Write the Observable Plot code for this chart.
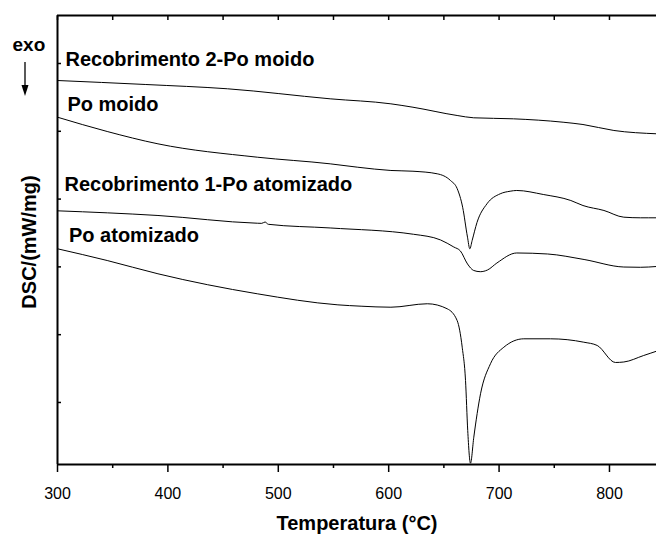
<!DOCTYPE html>
<html><head><meta charset="utf-8">
<script src="https://cdn.jsdelivr.net/npm/d3@7"></script>
<script src="https://cdn.jsdelivr.net/npm/@observablehq/plot@0.6"></script>
<style>body{margin:0;background:#fff}</style>
</head><body><div id="chart"></div>
<script>
// Temperature (°C) and DSC signal (mW/mg, arbitrary offset)
const tA = [300, 380, 454, 547, 602, 622, 662, 677, 713, 758, 776, 804, 843];
const vA = [5.749, 5.69, 5.627, 5.479, 5.405, 5.355, 5.233, 5.199, 5.184, 5.134, 5.100, 5.012, 4.963];

const tB = [300, 345, 391, 481, 547, 572, 602, 622, 644, 656, 662, 667, 671.4, 673.5, 675.6, 680, 689, 701, 710, 716, 740, 765, 776, 795, 813, 828, 843];
const vB = [5.208, 4.997, 4.815, 4.618, 4.520, 4.470, 4.422, 4.411, 4.373, 4.274, 4.156, 3.880, 3.438, 3.267, 3.389, 3.655, 3.930, 4.078, 4.116, 4.127, 4.068, 3.979, 3.905, 3.832, 3.733, 3.724, 3.724];

const tC = [300, 391, 481, 485, 488, 491, 547, 622.5, 647, 659, 665, 671.4, 677, 683, 689.5, 698, 716, 744, 777, 813, 828, 843];
const vC = [3.827, 3.758, 3.644, 3.642, 3.662, 3.628, 3.574, 3.481, 3.397, 3.293, 3.234, 3.043, 2.947, 2.929, 2.954, 3.057, 3.205, 3.190, 3.109, 2.998, 2.994, 3.006];

const tD = [300, 345, 391, 481, 554, 575, 602, 635, 653, 662, 666.6, 669.6, 671.6, 674.1, 677.1, 683.2, 692.2, 704.3, 722.4, 746.6, 776.7, 788.9, 805.4, 813, 831, 842.6];
const vD = [3.267, 3.094, 2.898, 2.603, 2.44, 2.42, 2.405, 2.456, 2.382, 2.209, 1.815, 1.324, 0.587, 0.104, 0.488, 1.128, 1.571, 1.815, 1.939, 1.939, 1.889, 1.841, 1.590, 1.597, 1.693, 1.756];

const seriesNames = ["Recobrimento 2-Po moido", "Po moido", "Recobrimento 1-Po atomizado", "Po atomizado"];
const labelT = [307.2, 309, 306.3, 310.4];
const labelV = [5.956, 5.292, 4.112, 3.360];

const xMajor = [300, 400, 500, 600, 700, 800];
const xMinor = [350, 450, 550, 650, 750];
const xAll = [300, 350, 400, 450, 500, 550, 600, 650, 700, 750, 800];
const yTicks = [1, 2, 3, 4, 5, 6];
const xDomain = [300, 842.6];
const yDomain = [0.085, 6.708];

const xTitle = "Temperatura (°C)";
const yTitle = "DSC/(mW/mg)";
const exoLabel = "exo";

const series = [[tA, vA], [tB, vB], [tC, vC], [tD, vD]];
const data = series.flatMap(([t, v], k) => t.map((T, i) => ({series: seriesNames[k], T, dsc: v[i]})));

const font = "'Liberation Sans', Arial, Helvetica, sans-serif";

const chart = Plot.plot({
  width: 656, height: 534,
  marginLeft: 57, marginRight: 0, marginTop: 15, marginBottom: 70,
  style: {fontFamily: font, background: "#fff", color: "#000", overflow: "visible"},
  x: {domain: xDomain},
  y: {domain: yDomain},
  marks: [
    Plot.line(data, {x: "T", y: "dsc", z: "series", curve: "monotone-x", stroke: "#000", strokeWidth: 1}),
    Plot.text(seriesNames, {x: (d, i) => labelT[i], y: (d, i) => labelV[i], text: d => d,
      textAnchor: "start", lineAnchor: "bottom", fontSize: 20, fontWeight: "bold", fill: "#000"}),
    Plot.axisX(xMajor, {anchor: "bottom", tickSize: 8, tickPadding: 15, fontSize: 16, fill: "#000", label: null, strokeWidth: 1.5}),
    Plot.axisX(xMinor, {anchor: "bottom", tickSize: 4, tickFormat: () => "", label: null, strokeWidth: 1.5}),
    Plot.axisX(xAll, {anchor: "top", tickSize: -4, tickFormat: () => "", label: null, strokeWidth: 1.5}),
    Plot.axisY(yTicks, {anchor: "left", tickSize: -4, tickFormat: () => "", label: null, strokeWidth: 1.5}),
    Plot.ruleX([xDomain[0]], {strokeWidth: 2}),
    Plot.ruleY(yDomain, {strokeWidth: 2}),
    Plot.text([xTitle], {frameAnchor: "bottom", dy: 65, textAnchor: "middle", lineAnchor: "bottom", fontSize: 20, fontWeight: "bold"}),
    Plot.text([yTitle], {frameAnchor: "left", dx: -22, dy: 2, rotate: -90, textAnchor: "middle", lineAnchor: "bottom", fontSize: 20, fontWeight: "bold"}),
    Plot.text([exoLabel], {frameAnchor: "top-left", dx: -45, dy: 35, textAnchor: "start", lineAnchor: "bottom", fontSize: 19, fontWeight: "bold"})
  ]
});

const svg = d3.select(chart);
svg.selectAll('g[aria-label="x-axis tick label"] text').attr("font-size", 16).attr("fill", "#000");
svg.selectAll('g[aria-label="x-axis tick label"]').attr("font-size", 16);
svg.append("line").attr("x1", 25).attr("x2", 25).attr("y1", 62).attr("y2", 88)
  .attr("stroke", "#000").attr("stroke-width", 1.3);
svg.append("path").attr("d", "M21.5,85L28.5,85L25,96Z").attr("fill", "#000");

document.getElementById("chart").appendChild(chart);
</script>
</body></html>
